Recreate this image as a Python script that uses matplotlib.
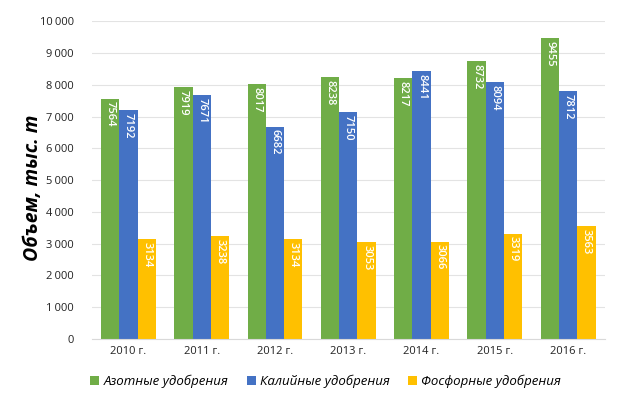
import numpy as np
from matplotlib import pyplot as plt
from matplotlib.ticker import FuncFormatter

plt.rcParams['font.family'] = ['Open Sans', 'DejaVu Sans']

years = ['2010 г.', '2011 г.', '2012 г.', '2013 г.', '2014 г.', '2015 г.', '2016 г.']
nitrogen = [7564, 7919, 8017, 8238, 8217, 8732, 9455]
potash = [7192, 7671, 6682, 7150, 8441, 8094, 7812]
phosphate = [3134, 3238, 3134, 3053, 3066, 3319, 3563]

series = [
    ('Азотные удобрения', nitrogen, '#70AD47'),
    ('Калийные удобрения', potash, '#4472C4'),
    ('Фосфорные удобрения', phosphate, '#FFC000'),
]


def make_figure():
    fig = plt.figure(figsize=(6.42, 4.07), dpi=100)
    ax = fig.add_axes([0.143, 0.167, 0.799, 0.781])
    return fig, ax


if __name__ == '__main__':
    fig, ax = make_figure()

    x = np.arange(len(years))
    width = 0.25

    for i, (name, values, color) in enumerate(series):
        pos = x + (i - 1) * width
        ax.bar(pos, values, width, color=color, label=name, zorder=2)
        for px, v in zip(pos, values):
            ax.text(px, v - 90, str(v), rotation=-90, ha='center', va='top',
                    color='white', fontsize=8, fontweight='semibold', zorder=3)

    ax.set_xlim(-0.5, len(years) - 0.5)
    ax.set_ylim(0, 10000)
    ax.set_yticks(np.arange(0, 10001, 1000))
    ax.yaxis.set_major_formatter(
        FuncFormatter(lambda v, _: f'{int(v):,}'.replace(',', '\u202f'))
    )
    ax.set_xticks(x)
    ax.set_xticklabels(years)
    ax.tick_params(axis='both', length=0, labelsize=8, colors='#222222')
    ax.tick_params(axis='y', pad=13)
    ax.tick_params(axis='x', pad=5)
    ax.grid(axis='y', color='#e3e3e3', linewidth=0.8, zorder=0)
    for side in ['top', 'right', 'left']:
        ax.spines[side].set_visible(False)
    ax.spines['bottom'].set_color('#d9d9d9')

    ax.set_ylabel('Объем, тыс. т', fontsize=14, fontweight='bold',
                  fontstyle='italic')
    ax.yaxis.set_label_coords(-0.095, 0.475)

    leg = ax.legend(loc='upper center', bbox_to_anchor=(0.456, -0.076), ncol=3,
                    frameon=False, handlelength=0.7, handleheight=0.7,
                    handletextpad=0.3, columnspacing=1.4,
                    prop={'size': 9.5, 'style': 'italic'})

    fig.savefig('out.png', dpi=100)
    plt.close(fig)
